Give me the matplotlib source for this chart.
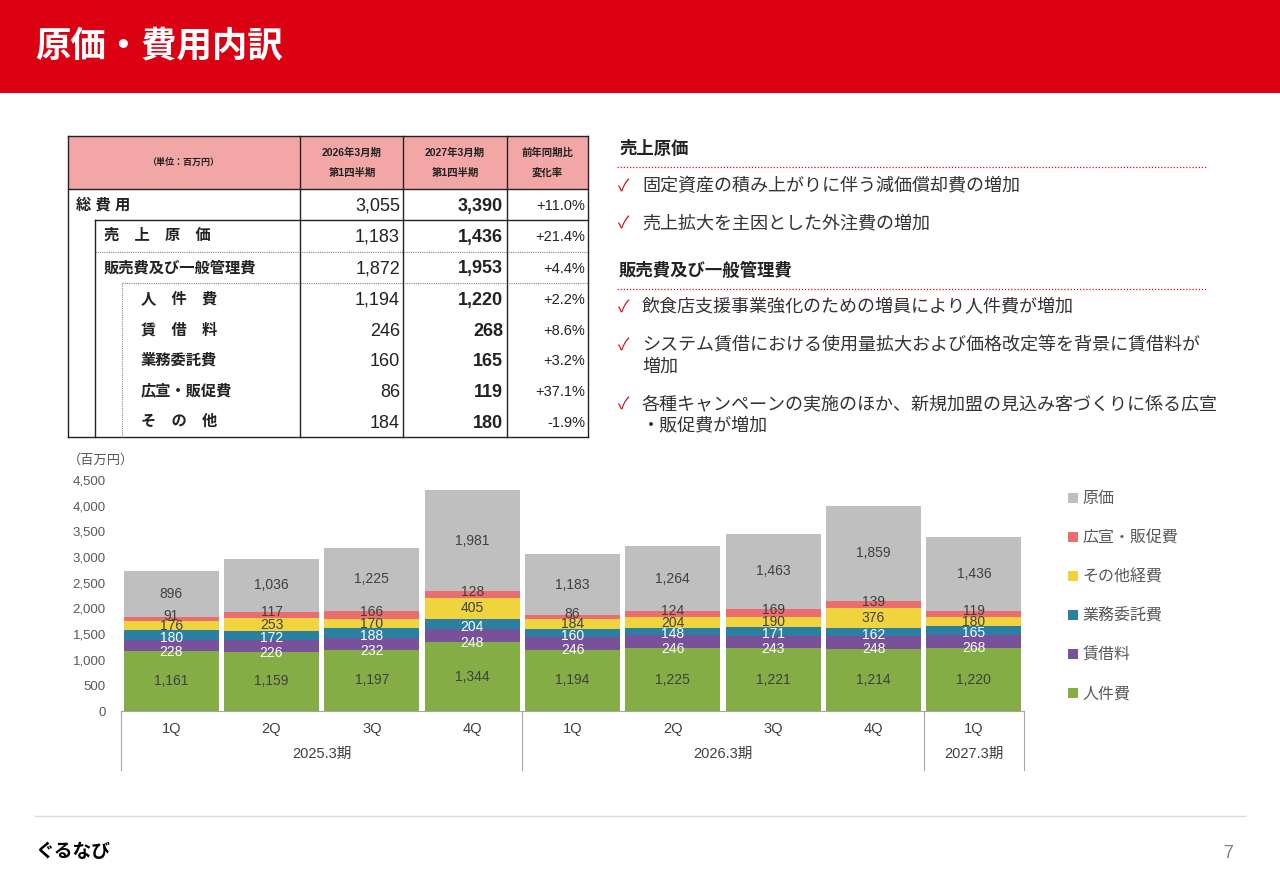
import matplotlib.pyplot as plt
from matplotlib.patches import Rectangle
import numpy as np

plt.rcParams['font.family'] = ['Liberation Sans', 'Noto Sans CJK JP', 'DejaVu Sans']

# グラフのデータ（百万円）
quarters = ["1Q", "2Q", "3Q", "4Q", "1Q", "2Q", "3Q", "4Q", "1Q"]
periods = ["2025.3期", "2026.3期", "2027.3期"]
period_len = [4, 4, 1]

jinkenhi = [1161, 1159, 1197, 1344, 1194, 1225, 1221, 1214, 1220]
chinshakuryo = [228, 226, 232, 248, 246, 246, 243, 248, 268]
gyomu_itaku = [180, 172, 188, 204, 160, 148, 171, 162, 165]
sonota = [176, 253, 170, 405, 184, 204, 190, 376, 180]
kosen = [91, 117, 166, 128, 86, 124, 169, 139, 119]
genka = [896, 1036, 1225, 1981, 1183, 1264, 1463, 1859, 1436]

series_names = ["人件費", "賃借料", "業務委託費", "その他経費", "広宣・販促費", "原価"]
colors = ["#84AD46", "#78519A", "#2A80A1", "#EFD43E", "#EC6D6F", "#BFBFBF"]
label_colors = ["#404040", "white", "white", "#404040", "#404040", "#404040"]
# ラベルの縦ずれ（pt、元資料の配置に合わせる）
label_shift = [0, -5, -2, 0, 2, 0]

# 表のデータ
row_labels = ["総 費 用", "売　上　原　価", "販売費及び一般管理費", "人　件　費",
              "賃　借　料", "業務委託費", "広宣・販促費", "そ　の　他"]
row_level = [0, 1, 1, 2, 2, 2, 2, 2]
prev_q = [3055, 1183, 1872, 1194, 246, 160, 86, 184]
curr_q = [3390, 1436, 1953, 1220, 268, 165, 119, 180]
change = [11.0, 21.4, 4.4, 2.2, 8.6, 3.2, 37.1, -1.9]

# 右側のコメント
comments = [
    ("売上原価", [["固定資産の積み上がりに伴う減価償却費の増加"],
                 ["売上拡大を主因とした外注費の増加"]]),
    ("販売費及び一般管理費", [["飲食店支援事業強化のための増員により人件費が増加"],
                           ["システム賃借における使用量拡大および価格改定等を背景に賃借料が", "増加"],
                           ["各種キャンペーンの実施のほか、新規加盟の見込み客づくりに係る広宣", "・販促費が増加"]]),
]

fig = plt.figure(figsize=(12.8, 8.86), dpi=100)
bg = fig.add_axes([0, 0, 1, 1])
bg.set_xlim(0, 1280)
bg.set_ylim(886, 0)
bg.axis('off')

# ヘッダー
bg.add_patch(Rectangle((0, 0), 1280, 93, color="#DB0012", lw=0))
bg.text(35, 47, "原価・費用内訳", color="white", fontsize=25.5, fontweight="bold", va="center")

# フッター
bg.plot([35, 1245], [816, 816], color="#DADADA", lw=1)
bg.text(35, 852, "ぐるなび", fontsize=13.5, fontweight="bold", va="center", color="black")
bg.text(1233, 853, "7", fontsize=13, va="center", ha="right", color="#808080")

# 表
tc = "#222222"
bg.add_patch(Rectangle((68, 136), 520, 53, color="#F3A6A6", lw=0))
bg.plot([68, 588], [136, 136], color=tc, lw=1)
bg.plot([68, 588], [189, 189], color=tc, lw=1)
bg.plot([95, 588], [220, 220], color=tc, lw=1)
bg.plot([95, 588], [252, 252], color="#888888", lw=0.8, ls=(0, (1, 1)))
bg.plot([122, 588], [283, 283], color="#888888", lw=0.8, ls=(0, (1, 1)))
bg.plot([68, 588], [437, 437], color=tc, lw=1)
for xv in [68, 300, 403, 507, 588]:
    bg.plot([xv, xv], [136, 437], color=tc, lw=1)
bg.plot([95, 95], [220, 437], color=tc, lw=1)
bg.plot([122, 122], [283, 437], color="#888888", lw=0.8, ls=(0, (1, 1)))

bg.text(183, 162, "（単位：百万円）", fontsize=6.5, fontweight="bold", ha="center", va="center", color=tc)
for cx, l1, l2 in [(352, "2026年3月期", "第1四半期"), (455, "2027年3月期", "第1四半期"), (547, "前年同期比", "変化率")]:
    bg.text(cx, 153, l1, fontsize=7.5, fontweight="bold", ha="center", va="center", color=tc)
    bg.text(cx, 173, l2, fontsize=7.5, fontweight="bold", ha="center", va="center", color=tc)

row_y = [205, 236, 268, 299, 330, 360, 391, 422]
level_x = [76, 104, 141]
for lab, lv, p, c, ch, ry in zip(row_labels, row_level, prev_q, curr_q, change, row_y):
    bg.text(level_x[lv], ry, lab, fontsize=11, fontweight="bold", va="center", color=tc)
    bg.text(400, ry + 1, f"{p:,}", fontsize=13, ha="right", va="center", color=tc)
    bg.text(503, ry + 1, f"{c:,}", fontsize=13, fontweight="bold", ha="right", va="center", color=tc)
    bg.text(585, ry + 1, f"{ch:+.1f}%", fontsize=10.5, ha="right", va="center", color=tc)

# 右側コメント
head_y = [148, 270]
bullet_y = [[187, 224], [308, 346, 405]]
for (head, items), hy, bys in zip(comments, head_y, bullet_y):
    bg.text(619, hy, head, fontsize=12.5, fontweight="bold", va="center", color="#222222")
    bg.plot([617, 1207], [hy + 19, hy + 19], color="#D0101A", lw=0.9, ls=(0, (1, 1.5)))
    for lines, by in zip(items, bys):
        bg.text(618, by, "✓", fontsize=12, color="#D0101A", va="center")
        for k, ln in enumerate(lines):
            bg.text(642, by + 21 * k, ln, fontsize=13, va="center", color="#333333")

# 積み上げ棒グラフ
ax = fig.add_axes([121 / 1280, (886 - 711) / 886, 903 / 1280, 231 / 886])
x = np.arange(len(quarters))
series = [jinkenhi, chinshakuryo, gyomu_itaku, sonota, kosen, genka]
bottom = np.zeros(len(x))
handles = []
for vals, name, c, lc, sh in zip(series, series_names, colors, label_colors, label_shift):
    vals = np.array(vals)
    bars = ax.bar(x, vals, 0.95, bottom=bottom, color=c, label=name)
    for xi, b, v in zip(x, bottom, vals):
        ax.annotate(f"{v:,}", (xi, b + v / 2), xytext=(0, sh), textcoords="offset points",
                    ha="center", va="center", color=lc, fontsize=10)
    handles.append(bars)
    bottom += vals

ax.set_xlim(-0.5, 8.5)
ax.set_ylim(0, 4500)
ax.set_yticks(range(0, 4501, 500))
ax.set_yticklabels([f"{v:,}" for v in range(0, 4501, 500)], fontsize=9.5, color="#595959")
ax.set_xticks(x)
ax.set_xticklabels(quarters, fontsize=10.5, color="#404040")
ax.tick_params(axis="y", length=0, pad=11)
ax.tick_params(axis="x", length=0, pad=8)
for s in ["top", "right", "left"]:
    ax.spines[s].set_visible(False)
ax.spines["bottom"].set_color("#A6A6A6")

trans = ax.get_xaxis_transform()
edges = np.cumsum([0] + period_len) - 0.5
for e in edges:
    ax.plot([e, e], [0, -0.255], transform=trans, clip_on=False, color="#A6A6A6", lw=0.8)
for i, p in enumerate(periods):
    cx = (edges[i] + edges[i + 1]) / 2
    ax.text(cx, -0.185, p, transform=trans, ha="center", va="center", fontsize=10.5, color="#404040")

bg.text(68, 460, "（百万円）", fontsize=9.5, va="center", color="#595959")

ax.legend(handles[::-1], series_names[::-1], loc="upper left",
          bbox_to_anchor=(1054 / 1280, (886 - 477) / 886), bbox_transform=fig.transFigure,
          frameon=False, fontsize=11.5, handlelength=0.6, handleheight=0.6,
          handletextpad=0.3, labelspacing=1.5, labelcolor="#595959")

fig.savefig("out.png", dpi=100)
